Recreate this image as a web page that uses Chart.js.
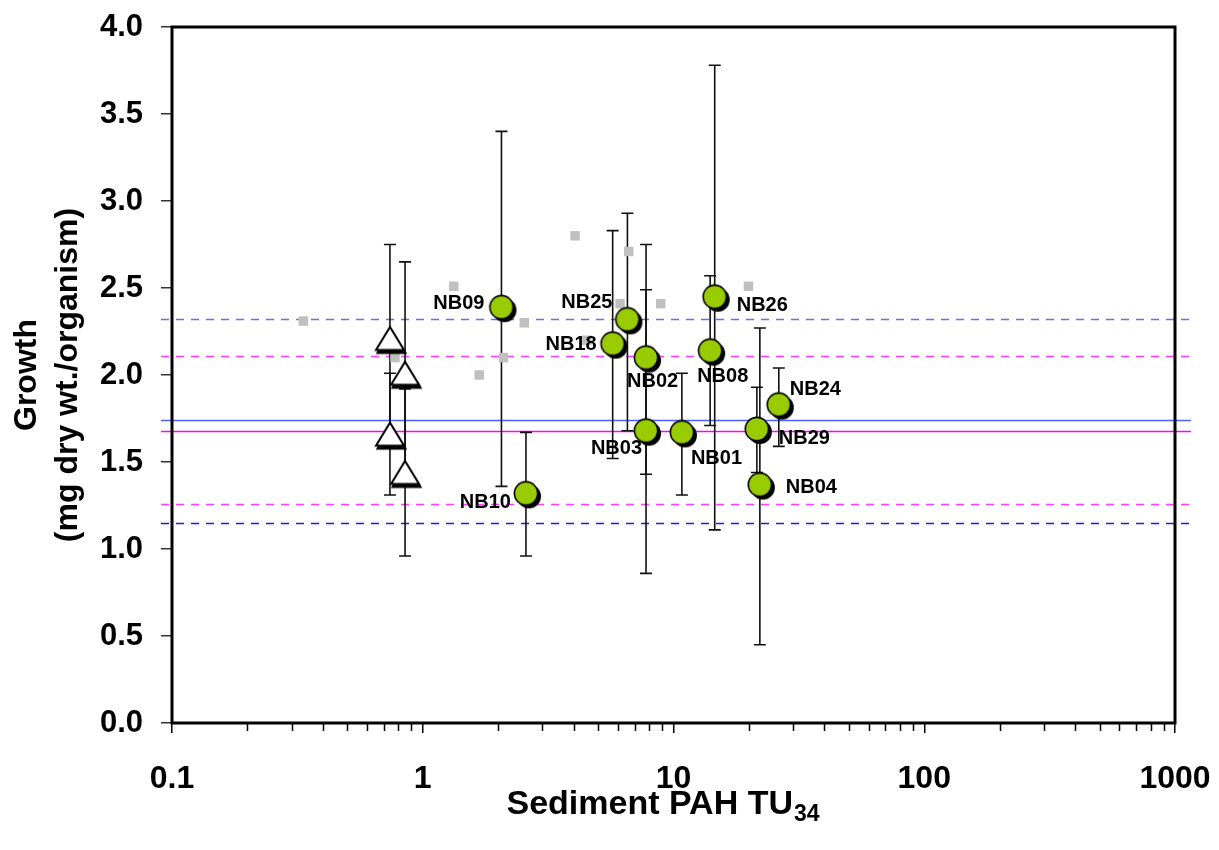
<!DOCTYPE html>
<html lang="en">
<head>
    <meta charset="UTF-8">
    <title>Growth vs Sediment PAH TU34</title>
    <script src="https://cdn.jsdelivr.net/npm/chart.js@4.4.1/dist/chart.umd.min.js"></script>
    <style>
        body { margin: 0; background: #fff; }
        #chart-container { width: 1219px; height: 850px; position: relative; }
    </style>
</head>
<body>
    <div id="chart-container">
        <canvas id="growth-chart"></canvas>
    </div>

    <script>
        // Sites with labels (green circles)
        const siteNames  = ['NB01', 'NB02', 'NB03', 'NB04', 'NB08', 'NB09', 'NB10', 'NB18', 'NB24', 'NB25', 'NB26', 'NB29'];
        const siteTU     = [10.8, 7.77, 7.77, 22.1, 14.0, 2.06, 2.58, 5.72, 26.3, 6.55, 14.6, 21.5];
        const siteGrowth = [1.67, 2.10, 1.68, 1.37, 2.14, 2.39, 1.32, 2.18, 1.83, 2.32, 2.45, 1.69];
        const siteLow    = [1.31, 1.43, 0.86, 0.45, 1.71, 1.36, 0.96, 1.52, 1.59, 1.68, 1.11, 1.44];
        const siteHigh   = [2.01, 2.75, 2.49, 2.27, 2.57, 3.40, 1.67, 2.83, 2.04, 2.93, 3.78, 1.93];

        // Reference sediments (open triangles)
        const refTU     = [0.74, 0.85, 0.74, 0.85];
        const refGrowth = [2.21, 2.01, 1.66, 1.44];
        const refLow    = [1.67, 1.37, 1.31, 0.96];
        const refHigh   = [2.75, 2.65, 2.01, 1.92];

        // Other samples (grey squares)
        const otherTU     = [0.334, 0.775, 1.33, 1.68, 2.10, 2.54, 4.05, 4.51, 6.12, 6.63, 8.89, 19.9];
        const otherGrowth = [2.31, 2.10, 2.51, 2.00, 2.10, 2.30, 2.80, 2.20, 2.41, 2.71, 2.41, 2.51];

        // Horizontal reference levels
        const levelValues = [2.32, 2.11, 1.74, 1.68, 1.26, 1.15];

        // Axis ticks
        const xTickValues = [0.1, 1, 10, 100, 1000];
        const yTickMin = 0, yTickMax = 4, yTickStep = 0.5;

        // ---- styles ----
        const FONT = "'Liberation Sans', Arial, sans-serif";
        const levelStyles = [
            { color: '#6b6bff', dash: [8, 7] },
            { color: '#ff3cff', dash: [8, 7] },
            { color: '#5060ff', dash: [] },
            { color: '#ff00ff', dash: [] },
            { color: '#ff3cff', dash: [8, 7] },
            { color: '#1c1cd8', dash: [8, 7] }
        ];
        // label placement relative to each circle: [align, dx, dy]
        const labelOffsets = {
            NB01: ['left', 9, 26],   NB02: ['left', -19, 24],  NB03: ['right', -4, 18],
            NB04: ['left', 26, 3],   NB08: ['left', -13, 26],  NB09: ['right', -17, -4],
            NB10: ['right', -15, 9], NB18: ['right', -16, 1],  NB24: ['left', 11, -15],
            NB25: ['right', -15, -17], NB26: ['left', 22, 9],  NB29: ['left', 22, 10]
        };

        function makeCircle() {
            const c = document.createElement('canvas');
            c.width = 36; c.height = 36;
            const g = c.getContext('2d');
            g.fillStyle = '#000';
            g.beginPath(); g.arc(21, 21, 12, 0, Math.PI * 2); g.fill();
            g.fillStyle = '#99cc00'; g.strokeStyle = '#000'; g.lineWidth = 1.6;
            g.beginPath(); g.arc(18, 18, 11.6, 0, Math.PI * 2); g.fill(); g.stroke();
            return c;
        }

        function makeTriangle() {
            const c = document.createElement('canvas');
            c.width = 38; c.height = 38;
            const g = c.getContext('2d');
            const tri = (ox, oy) => {
                g.beginPath();
                g.moveTo(19 + ox, 7.5 + oy);
                g.lineTo(33 + ox, 30.5 + oy);
                g.lineTo(5 + ox, 30.5 + oy);
                g.closePath();
            };
            g.fillStyle = '#000'; tri(1.5, 3); g.fill();
            g.lineWidth = 2; g.strokeStyle = '#000'; g.stroke();
            g.fillStyle = '#fff'; tri(0, 0); g.fill(); g.stroke();
            return c;
        }

        const circleImg = makeCircle();
        const triangleImg = makeTriangle();

        function drawErrorBars(ctx, xs, ys, xv, lo, hi) {
            for (let i = 0; i < xv.length; i++) {
                const px = xs.getPixelForValue(xv[i]);
                const top = ys.getPixelForValue(hi[i]);
                const bot = ys.getPixelForValue(lo[i]);
                ctx.beginPath();
                ctx.moveTo(px, top); ctx.lineTo(px, bot);
                ctx.moveTo(px - 6, top); ctx.lineTo(px + 6, top);
                ctx.moveTo(px - 6, bot); ctx.lineTo(px + 6, bot);
                ctx.stroke();
            }
        }

        const decorPlugin = {
            id: 'decor',
            beforeDatasetsDraw(chart) {
                const { ctx, chartArea, scales: { x, y } } = chart;
                ctx.save();
                // reference levels
                levelValues.forEach((v, i) => {
                    const py = Math.round(y.getPixelForValue(v)) + 0.5;
                    ctx.strokeStyle = levelStyles[i].color;
                    ctx.setLineDash(levelStyles[i].dash);
                    ctx.lineWidth = 1.6;
                    ctx.beginPath();
                    ctx.moveTo(chartArea.left - 11, py);
                    ctx.lineTo(chartArea.right + 16, py);
                    ctx.stroke();
                });
                ctx.setLineDash([]);
                // error bars
                ctx.strokeStyle = '#111';
                ctx.lineWidth = 1.6;
                drawErrorBars(ctx, x, y, refTU, refLow, refHigh);
                drawErrorBars(ctx, x, y, siteTU, siteLow, siteHigh);
                ctx.restore();
            },
            afterDatasetsDraw(chart) {
                const { ctx, chartArea, scales: { x, y } } = chart;
                ctx.save();
                // plot frame
                ctx.strokeStyle = '#000';
                ctx.lineWidth = 3;
                ctx.strokeRect(chartArea.left, chartArea.top, chartArea.right - chartArea.left, chartArea.bottom - chartArea.top);
                // minor log ticks
                ctx.lineWidth = 1.5;
                ctx.beginPath();
                for (let k = -1; k < 3; k++) {
                    for (let d = 2; d < 10; d++) {
                        const px = Math.round(x.getPixelForValue(d * Math.pow(10, k))) + 0.5;
                        ctx.moveTo(px, chartArea.bottom);
                        ctx.lineTo(px, chartArea.bottom + 8);
                    }
                }
                ctx.stroke();
                // site labels
                ctx.fillStyle = '#000';
                ctx.font = 'bold 20px ' + FONT;
                ctx.textBaseline = 'middle';
                siteNames.forEach((name, i) => {
                    const [align, dx, dy] = labelOffsets[name];
                    ctx.textAlign = align;
                    ctx.fillText(name, x.getPixelForValue(siteTU[i]) + dx, y.getPixelForValue(siteGrowth[i]) + dy);
                });
                // x axis title with subscript
                const main = 'Sediment PAH TU', sub = '34';
                ctx.font = 'bold 34px ' + FONT;
                const wMain = ctx.measureText(main).width;
                ctx.font = 'bold 23px ' + FONT;
                const wSub = ctx.measureText(sub).width;
                const startX = (chartArea.left + chartArea.right) / 2 - 11 - (wMain + wSub) / 2;
                ctx.textAlign = 'left';
                ctx.textBaseline = 'alphabetic';
                ctx.font = 'bold 34px ' + FONT;
                ctx.fillText(main, startX, 814);
                ctx.font = 'bold 23px ' + FONT;
                ctx.fillText(sub, startX + wMain + 1, 821);
                ctx.restore();
            }
        };

        const ctx = document.getElementById('growth-chart').getContext('2d');
        const chart = new Chart(ctx, {
            type: 'scatter',
            data: {
                datasets: [{
                    label: 'Sites',
                    data: siteTU.map((v, i) => ({ x: v, y: siteGrowth[i] })),
                    pointStyle: circleImg,
                    order: 0
                }, {
                    label: 'Reference',
                    data: refTU.map((v, i) => ({ x: v, y: refGrowth[i] })),
                    pointStyle: triangleImg,
                    order: 1
                }, {
                    label: 'Other',
                    data: otherTU.map((v, i) => ({ x: v, y: otherGrowth[i] })),
                    pointStyle: 'rect',
                    pointRadius: 6.7,
                    backgroundColor: '#c0c0c0',
                    borderWidth: 0,
                    order: 2
                }]
            },
            options: {
                responsive: true,
                maintainAspectRatio: false,
                animation: false,
                events: [],
                layout: { padding: { top: 27, right: 44, left: 0, bottom: 0 } },
                plugins: {
                    legend: { display: false },
                    tooltip: { enabled: false }
                },
                scales: {
                    x: {
                        type: 'logarithmic',
                        min: 0.1,
                        max: 1000,
                        afterBuildTicks(scale) {
                            scale.ticks = xTickValues.map(v => ({ value: v, major: true }));
                        },
                        afterFit(scale) {
                            scale.height = 127;
                            scale.paddingLeft = 0;
                            scale.paddingRight = 0;
                        },
                        border: { display: false },
                        grid: { drawOnChartArea: false, drawTicks: true, tickLength: 10, color: '#000', lineWidth: 1.5 },
                        ticks: {
                            autoSkip: false,
                            maxRotation: 0,
                            padding: 27,
                            color: '#000',
                            font: { family: FONT, size: 32, weight: 'bold' },
                            callback: v => String(v)
                        }
                    },
                    y: {
                        min: yTickMin,
                        max: yTickMax,
                        afterFit(scale) {
                            scale.width = 172;
                            scale.paddingTop = 0;
                            scale.paddingBottom = 0;
                        },
                        border: { display: false },
                        grid: { drawOnChartArea: false, drawTicks: true, tickLength: 11, color: '#333', lineWidth: 1.5 },
                        ticks: {
                            stepSize: yTickStep,
                            padding: 18,
                            color: '#000',
                            font: { family: FONT, size: 31, weight: 'bold' },
                            callback: v => v.toFixed(1)
                        },
                        title: {
                            display: true,
                            text: ['Growth', '(mg dry wt./organism)'],
                            color: '#000',
                            padding: { top: 6, bottom: 0 },
                            font: { family: FONT, size: 32, weight: 'bold', lineHeight: 1.3 }
                        }
                    }
                }
            },
            plugins: [decorPlugin]
        });
    </script>
</body>
</html>
